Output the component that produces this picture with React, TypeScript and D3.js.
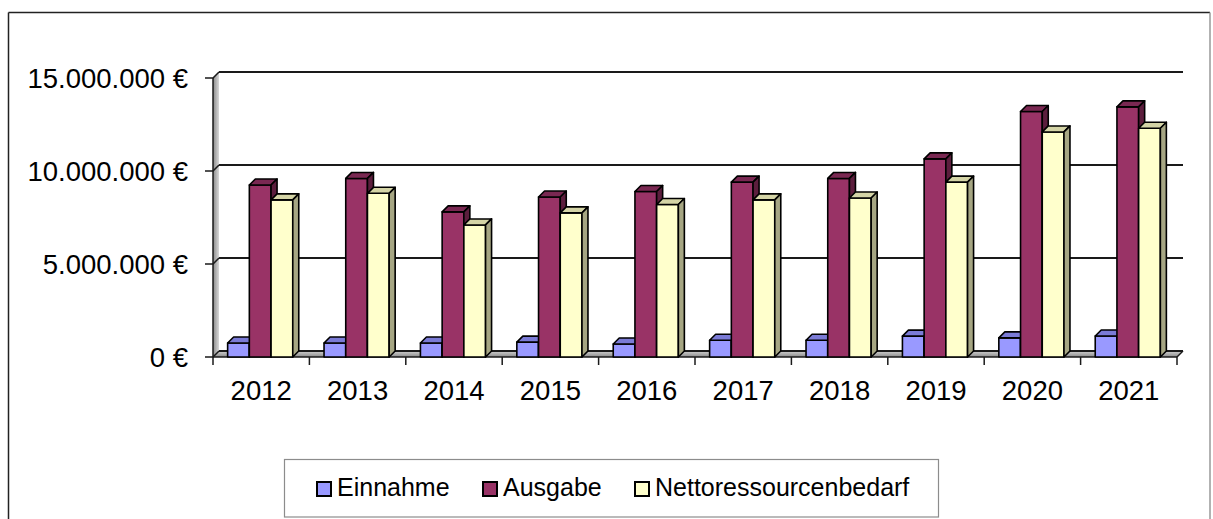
import React from "react";
import * as d3 from "d3";

// values in Mio €
const years = ["2012", "2013", "2014", "2015", "2016", "2017", "2018", "2019", "2020", "2021"];
const einnahme = [0.75, 0.75, 0.75, 0.8, 0.7, 0.9, 0.9, 1.12, 1.03, 1.13];
const ausgabe = [9.25, 9.6, 7.8, 8.6, 8.9, 9.4, 9.6, 10.65, 13.2, 13.45];
const netto = [8.45, 8.8, 7.1, 7.75, 8.2, 8.45, 8.55, 9.4, 12.1, 12.3];
const yTicks = [0, 5000000, 10000000, 15000000];
const seriesNames = ["Einnahme", "Ausgabe", "Nettoressourcenbedarf"];

const colors = [
  { front: "#9999ff", top: "#7b7bd6", side: "#6666b3" },
  { front: "#993366", top: "#7a2852", side: "#5c1e3d" },
  { front: "#ffffcc", top: "#d4d4a6", side: "#a6a683" },
];

const W = 1213;
const H = 519;
const DX = 6; // 3d depth
const DY = -6;

const de = d3.formatLocale({ decimal: ",", thousands: ".", grouping: [3], currency: ["", " €"] });
const fmt = de.format(",");

export default function App() {
  const values = [einnahme, ausgabe, netto];
  const x0 = d3.scaleBand().domain(years).range([213, 1177]);
  const x1 = d3
    .scaleBand()
    .domain(seriesNames)
    .range([0, x0.bandwidth()])
    .paddingInner(0)
    .paddingOuter(0.72);
  const y = d3.scaleLinear().domain([0, 15000000]).range([357, 78]);
  const base = y(0);
  const left = x0.range()[0];
  const right = x0.range()[1];

  const bars: JSX.Element[] = [];
  years.forEach((yr, i) => {
    seriesNames.forEach((s, j) => {
      const v = values[j][i] * 1000000;
      const bx = (x0(yr) as number) + (x1(s) as number) - 1;
      const bw = x1.bandwidth();
      const by = y(v);
      const c = colors[j];
      bars.push(
        <g key={yr + s} stroke="#000" strokeWidth={1.6} strokeLinejoin="round">
          <rect x={bx} y={by} width={bw} height={base - by} fill={c.front} />
          <polygon
            points={`${bx},${by} ${bx + DX},${by + DY} ${bx + bw + DX},${by + DY} ${bx + bw},${by}`}
            fill={c.top}
          />
          <polygon
            points={`${bx + bw},${by} ${bx + bw + DX},${by + DY} ${bx + bw + DX},${base + DY} ${bx + bw},${base}`}
            fill={c.side}
          />
        </g>
      );
    });
  });

  const legendX = [317, 483, 635];
  const legendTextX = [337, 503, 655];

  return (
    <div style={{ position: "absolute", left: 0, top: 0 }}>
      <svg width={W} height={H} style={{ display: "block", fontFamily: "'Liberation Sans', Arial, sans-serif" }}>
        <defs>
          <linearGradient id="wallGrad" x1="0" x2="1" y1="0" y2="0">
            <stop offset="0" stopColor="#8a8a8a" />
            <stop offset="1" stopColor="#d8d8d8" />
          </linearGradient>
          <linearGradient id="floorGrad" x1="0" x2="0" y1="0" y2="1">
            <stop offset="0" stopColor="#d0d0d0" />
            <stop offset="1" stopColor="#8c8c8c" />
          </linearGradient>
        </defs>
        <rect width={W} height={H} fill="#fff" />
        {/* outer frame */}
        <line x1={8.5} y1={12.5} x2={8.5} y2={H} stroke="#222" strokeWidth={1.5} />
        <line x1={8.5} y1={12.5} x2={1210} y2={12.5} stroke="#222" strokeWidth={1.5} />
        <line x1={1210} y1={12.5} x2={1210} y2={H} stroke="#999" strokeWidth={1.5} />

        {/* left wall and floor */}
        <polygon
          points={`${left},${y(15000000)} ${left + DX},${y(15000000) + DY} ${left + DX},${base + DY} ${left},${base}`}
          fill="url(#wallGrad)"
        />
        <polygon
          points={`${left},${base} ${left + DX},${base + DY} ${right + DX},${base + DY} ${right},${base}`}
          fill="url(#floorGrad)"
        />

        {/* gridlines on back wall */}
        {yTicks.map((t) => (
          <g key={t}>
            <line x1={left + DX} x2={right + DX} y1={y(t) + DY} y2={y(t) + DY} stroke="#1a1a1a" strokeWidth={2} />
            <polyline
              points={`${left - 8},${y(t)} ${left},${y(t)} ${left + DX},${y(t) + DY}`}
              fill="none"
              stroke="#1a1a1a"
              strokeWidth={1.5}
            />
            <text x={188} y={y(t)} dy="0.35em" textAnchor="end" fontSize={27.5} fill="#000">
              {fmt(t) + " €"}
            </text>
          </g>
        ))}
        <line x1={right} y1={base} x2={right + DX} y2={base + DY} stroke="#1a1a1a" strokeWidth={1.5} />

        {/* front axes */}
        <line x1={left} x2={left} y1={y(15000000)} y2={base} stroke="#1a1a1a" strokeWidth={1.5} />
        <line x1={left} x2={right} y1={base} y2={base} stroke="#1a1a1a" strokeWidth={1.5} />
        {years.concat(["end"]).map((yr, i) => {
          const xx = left + i * x0.step();
          return <line key={yr} x1={xx} x2={xx} y1={base} y2={base + 8} stroke="#1a1a1a" strokeWidth={1.5} />;
        })}

        {bars}

        {years.map((yr) => (
          <text key={yr} x={(x0(yr) as number) + x0.bandwidth() / 2} y={400} textAnchor="middle" fontSize={27.5} fill="#000">
            {yr}
          </text>
        ))}

        {/* legend */}
        <rect x={284.5} y={459.5} width={654} height={57.5} fill="#fff" stroke="#8c8c8c" strokeWidth={1.2} />
        {seriesNames.map((s, j) => (
          <g key={s}>
            <rect x={legendX[j]} y={482} width={14} height={14} fill={colors[j].front} stroke="#000" strokeWidth={2} />
            <text x={legendTextX[j]} y={496} fontSize={25} fill="#000">
              {s}
            </text>
          </g>
        ))}
      </svg>
    </div>
  );
}
